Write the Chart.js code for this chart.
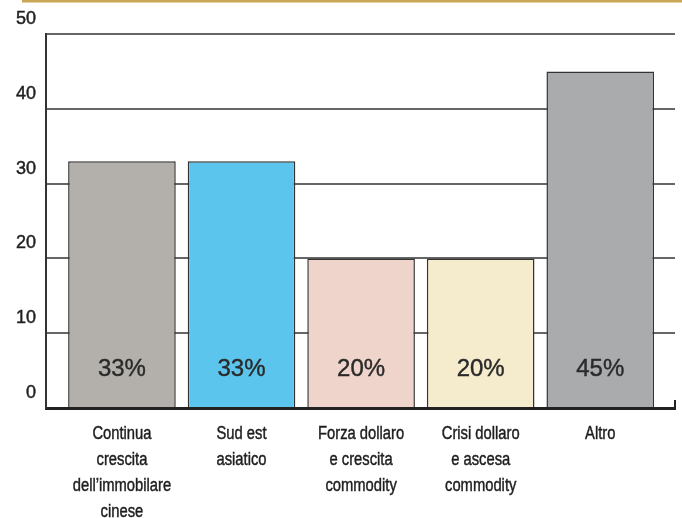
<!DOCTYPE html>
<html>
<head>
<meta charset="utf-8">
<script src="https://cdn.jsdelivr.net/npm/chart.js@4"></script>
<style>
  html, body { margin: 0; padding: 0; background: #ffffff; }
  #wrap { width: 682px; height: 518px; }
</style>
</head>
<body>
<div id="wrap"><canvas id="chart_scenari" width="682" height="518"></canvas></div>
<script>
// categories and values
const categories = [
  ["Continua", "crescita", "dell\u2019immobilare", "cinese"],
  ["Sud est", "asiatico"],
  ["Forza dollaro", "e crescita", "commodity"],
  ["Crisi dollaro", "e ascesa", "commodity"],
  ["Altro"],
];
const values = [33, 33, 20, 20, 45];
const barColors = ["#b3b0ab", "#5cc5ed", "#efd4cb", "#f5ebcd", "#aaabad"];
const yTicks = [0, 10, 20, 30, 40, 50];

// decoration: gold rule on top, small end tick, percentage labels,
// and the narrow category labels (no narrow font installed, so squeeze it)
const extras = {
  id: "extras",
  afterDatasetsDraw(chart) {
    const ctx = chart.ctx;
    const x = chart.scales.x;
    const y = chart.scales.y;
    const base = y.getPixelForValue(0);
    ctx.save();
    ctx.fillStyle = "#c9a654";
    ctx.fillRect(22, 0, chart.width - 22, 2.5);

    ctx.strokeStyle = "#222";
    ctx.lineWidth = 2;
    ctx.beginPath();
    ctx.moveTo(x.right, base);
    ctx.lineTo(x.right, base - 8);
    ctx.stroke();

    ctx.fillStyle = "#2a2a2a";
    ctx.strokeStyle = "#2a2a2a";
    ctx.lineWidth = 0.4;
    ctx.font = "24px 'Liberation Sans', Arial, sans-serif";
    ctx.textAlign = "center";
    ctx.textBaseline = "middle";
    chart.getDatasetMeta(0).data.forEach((bar, i) => {
      ctx.fillText(values[i] + "%", bar.x, base - 39);
      ctx.strokeText(values[i] + "%", bar.x, base - 39);
    });

    ctx.fillStyle = "#1e1e1e";
    ctx.strokeStyle = "#1e1e1e";
    ctx.lineWidth = 0.45;
    ctx.font = "18px 'Liberation Sans', Arial, sans-serif";
    categories.forEach((lines, i) => {
      const cx = x.getPixelForValue(i + 1);
      lines.forEach((line, j) => {
        ctx.save();
        ctx.translate(cx, base + 26 + j * 26);
        ctx.scale(0.82, 1);
        ctx.fillText(line, 0, 0);
        ctx.strokeText(line, 0, 0);
        ctx.restore();
      });
    });
    ctx.restore();
  },
};

const ctx1 = document.getElementById("chart_scenari").getContext("2d");
const chartScenari = new Chart(ctx1, {
  type: "bar",
  data: {
    datasets: [
      {
        data: values.map((v, i) => ({ x: i + 1, y: v })),
        backgroundColor: barColors,
        borderColor: "#333",
        borderWidth: 1.5,
        barPercentage: 0.9,
        categoryPercentage: 1,
      },
    ],
  },
  options: {
    responsive: false,
    animation: false,
    layout: { padding: { top: 34, right: 7, left: 0, bottom: 0 } },
    plugins: {
      legend: { display: false },
      tooltip: { enabled: false },
    },
    scales: {
      x: {
        type: "linear",
        offset: false,
        min: 0.365,
        max: 5.625,
        afterBuildTicks: (scale) => {
          scale.ticks = categories.map((c, i) => ({ value: i + 1 }));
        },
        afterFit: (scale) => {
          scale.height = 110;
        },
        grid: { display: false, drawTicks: false },
        border: { display: true, color: "#222", width: 3 },
        ticks: { display: false },
      },
      y: {
        min: 0,
        max: 50,
        afterBuildTicks: (scale) => {
          scale.ticks = yTicks.map((v) => ({ value: v }));
        },
        afterFit: (scale) => {
          scale.width = 46;
        },
        grid: { color: "#666", lineWidth: 2, drawTicks: false },
        border: { display: true, color: "#333", width: 2 },
        ticks: {
          padding: 10,
          labelOffset: -15,
          color: "#1e1e1e",
          textStrokeColor: "#1e1e1e",
          textStrokeWidth: 0.45,
          font: { family: "'Liberation Sans', Arial, sans-serif", size: 18 },
        },
      },
    },
  },
  plugins: [extras],
});
</script>
</body>
</html>
